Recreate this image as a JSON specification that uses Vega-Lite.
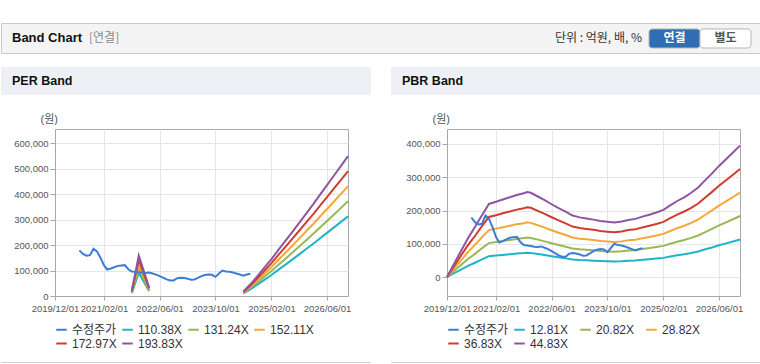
{
  "$schema": "https://vega.github.io/schema/vega-lite/v6.json",
  "background": "#ffffff",
  "padding": {"left": 0, "top": 22, "right": 0, "bottom": 0},
  "config": {
    "view": {"stroke": "#a8a8a8"},
    "axis": {"labelFont": "Liberation Sans", "labelFontSize": 9.5, "labelColor": "#555555", "gridColor": "#e6e6e6", "tickColor": "#a8a8a8", "domainColor": "#a8a8a8"},
    "line": {"strokeWidth": 2}
  },
  "datasets": {
    "price": [
      {"d": "2020-07-01", "p": 179000}, {"d": "2020-08-01", "p": 165000}, {"d": "2020-09-01", "p": 158000}, {"d": "2020-10-01", "p": 160000},
      {"d": "2020-11-01", "p": 185000}, {"d": "2020-12-01", "p": 175000}, {"d": "2021-01-01", "p": 150000}, {"d": "2021-02-01", "p": 120000},
      {"d": "2021-03-01", "p": 104000}, {"d": "2021-04-01", "p": 108000}, {"d": "2021-05-01", "p": 113000}, {"d": "2021-06-01", "p": 118000},
      {"d": "2021-07-01", "p": 120000}, {"d": "2021-08-01", "p": 121000}, {"d": "2021-09-01", "p": 105000}, {"d": "2021-10-01", "p": 96000},
      {"d": "2021-11-01", "p": 95000}, {"d": "2021-12-01", "p": 93000}, {"d": "2022-01-01", "p": 91000}, {"d": "2022-02-01", "p": 90000},
      {"d": "2022-03-01", "p": 92000}, {"d": "2022-04-01", "p": 88000}, {"d": "2022-05-01", "p": 84000}, {"d": "2022-06-01", "p": 78000},
      {"d": "2022-07-01", "p": 72000}, {"d": "2022-08-01", "p": 65000}, {"d": "2022-09-01", "p": 61000}, {"d": "2022-10-01", "p": 61000},
      {"d": "2022-11-01", "p": 70000}, {"d": "2022-12-01", "p": 72000}, {"d": "2023-01-01", "p": 71000}, {"d": "2023-02-01", "p": 68000},
      {"d": "2023-03-01", "p": 64000}, {"d": "2023-04-01", "p": 65000}, {"d": "2023-05-01", "p": 71000}, {"d": "2023-06-01", "p": 78000},
      {"d": "2023-07-01", "p": 82000}, {"d": "2023-08-01", "p": 84000}, {"d": "2023-09-01", "p": 83000}, {"d": "2023-10-01", "p": 75000},
      {"d": "2023-11-01", "p": 88000}, {"d": "2023-12-01", "p": 100000}, {"d": "2024-01-01", "p": 96000}, {"d": "2024-02-01", "p": 95000},
      {"d": "2024-03-01", "p": 92000}, {"d": "2024-04-01", "p": 88000}, {"d": "2024-05-01", "p": 84000}, {"d": "2024-06-01", "p": 80000},
      {"d": "2024-07-01", "p": 84000}, {"d": "2024-08-01", "p": 87000}
    ],
    "perBand": [
      {"d": "2021-10-01", "g": 1, "a": 11000, "b": 13100, "c": 15200, "e": 17300, "f": 19400},
      {"d": "2021-12-01", "g": 1, "a": 90500, "b": 107600, "c": 124700, "e": 141800, "f": 158900},
      {"d": "2022-03-01", "g": 1, "a": 19300, "b": 23000, "c": 26600, "e": 30300, "f": 33900},
      {"d": "2024-06-01", "g": 2, "a": 9900, "b": 11800, "c": 13700, "e": 15600, "f": 17400},
      {"d": "2024-08-01", "g": 2, "a": 26200, "b": 31100, "c": 36100, "e": 41000, "f": 45900},
      {"d": "2024-10-01", "g": 2, "a": 44300, "b": 52600, "c": 61000, "e": 69400, "f": 77700},
      {"d": "2024-12-01", "g": 2, "a": 63100, "b": 75100, "c": 87000, "e": 98900, "f": 110900},
      {"d": "2025-02-01", "g": 2, "a": 82500, "b": 98000, "c": 113600, "e": 129200, "f": 144800},
      {"d": "2025-04-01", "g": 2, "a": 102300, "b": 121700, "c": 141000, "e": 160300, "f": 179700},
      {"d": "2025-06-01", "g": 2, "a": 122300, "b": 145400, "c": 168500, "e": 191700, "f": 214800},
      {"d": "2025-08-01", "g": 2, "a": 142700, "b": 169700, "c": 196700, "e": 223700, "f": 250600},
      {"d": "2025-10-01", "g": 2, "a": 163400, "b": 194200, "c": 225100, "e": 256000, "f": 286900},
      {"d": "2025-12-01", "g": 2, "a": 184100, "b": 218900, "c": 253700, "e": 288500, "f": 323300},
      {"d": "2026-02-01", "g": 2, "a": 205100, "b": 243800, "c": 282600, "e": 321400, "f": 360100},
      {"d": "2026-04-01", "g": 2, "a": 226300, "b": 269000, "c": 311800, "e": 354600, "f": 397400},
      {"d": "2026-06-01", "g": 2, "a": 247600, "b": 294400, "c": 341200, "e": 388000, "f": 434800},
      {"d": "2026-08-01", "g": 2, "a": 269100, "b": 320000, "c": 370800, "e": 421700, "f": 472600},
      {"d": "2026-10-01", "g": 2, "a": 290600, "b": 345600, "c": 400500, "e": 455400, "f": 510400},
      {"d": "2026-12-01", "g": 2, "a": 312400, "b": 371400, "c": 430500, "e": 489500, "f": 548500}
    ],
    "pbrBand": [
      {"d": "2019-12-01", "a": 0, "b": 0, "c": 0, "e": 0, "f": 0},
      {"d": "2020-02-01", "a": 11500, "b": 18700, "c": 25900, "e": 33100, "f": 40300},
      {"d": "2020-04-01", "a": 22400, "b": 36400, "c": 50400, "e": 64500, "f": 78500},
      {"d": "2020-06-01", "a": 33300, "b": 54100, "c": 74900, "e": 95800, "f": 116600},
      {"d": "2020-08-01", "a": 42900, "b": 69700, "c": 96500, "e": 123400, "f": 150200},
      {"d": "2020-10-01", "a": 53200, "b": 86400, "c": 119600, "e": 152800, "f": 186000},
      {"d": "2020-12-01", "a": 62800, "b": 102000, "c": 141200, "e": 180500, "f": 219700},
      {"d": "2021-02-01", "a": 64700, "b": 105100, "c": 145500, "e": 186000, "f": 226400},
      {"d": "2021-04-01", "a": 66600, "b": 108300, "c": 149900, "e": 191500, "f": 233100},
      {"d": "2021-06-01", "a": 68500, "b": 111400, "c": 154200, "e": 197000, "f": 239800},
      {"d": "2021-08-01", "a": 70500, "b": 114500, "c": 158500, "e": 202600, "f": 246600},
      {"d": "2021-10-01", "a": 72000, "b": 117000, "c": 162000, "e": 207000, "f": 251900},
      {"d": "2021-11-01", "a": 73000, "b": 118700, "c": 164300, "e": 209900, "f": 255500},
      {"d": "2021-12-01", "a": 72400, "b": 117600, "c": 162800, "e": 208100, "f": 253300},
      {"d": "2022-02-01", "a": 69200, "b": 112400, "c": 155600, "e": 198900, "f": 242100},
      {"d": "2022-04-01", "a": 66000, "b": 107200, "c": 148400, "e": 189700, "f": 230900},
      {"d": "2022-06-01", "a": 62500, "b": 101600, "c": 140600, "e": 179700, "f": 218800},
      {"d": "2022-08-01", "a": 59200, "b": 96200, "c": 133100, "e": 170200, "f": 207100},
      {"d": "2022-10-01", "a": 56100, "b": 91200, "c": 126200, "e": 161300, "f": 196400},
      {"d": "2022-12-01", "a": 52800, "b": 85800, "c": 118700, "e": 151700, "f": 184700},
      {"d": "2023-02-01", "a": 51200, "b": 83300, "c": 115300, "e": 147300, "f": 179300},
      {"d": "2023-04-01", "a": 50300, "b": 81800, "c": 113300, "e": 144700, "f": 176200},
      {"d": "2023-06-01", "a": 49300, "b": 80200, "c": 111000, "e": 141800, "f": 172600},
      {"d": "2023-08-01", "a": 48200, "b": 78300, "c": 108400, "e": 138500, "f": 168600},
      {"d": "2023-10-01", "a": 47400, "b": 77000, "c": 106600, "e": 136300, "f": 165900},
      {"d": "2023-12-01", "a": 46800, "b": 76000, "c": 105200, "e": 134400, "f": 163600},
      {"d": "2024-02-01", "a": 47700, "b": 77500, "c": 107200, "e": 137000, "f": 166800},
      {"d": "2024-04-01", "a": 49100, "b": 79700, "c": 110400, "e": 141100, "f": 171700},
      {"d": "2024-06-01", "a": 50000, "b": 81200, "c": 112400, "e": 143600, "f": 174800},
      {"d": "2024-08-01", "a": 51900, "b": 84300, "c": 116700, "e": 149200, "f": 181600},
      {"d": "2024-10-01", "a": 53500, "b": 87000, "c": 120500, "e": 153900, "f": 187400},
      {"d": "2024-12-01", "a": 55500, "b": 90200, "c": 124800, "e": 159500, "f": 194100},
      {"d": "2025-02-01", "a": 57600, "b": 93700, "c": 129700, "e": 165700, "f": 201700},
      {"d": "2025-04-01", "a": 61500, "b": 99900, "c": 138300, "e": 176800, "f": 215200},
      {"d": "2025-06-01", "a": 65300, "b": 106200, "c": 147000, "e": 187800, "f": 228600},
      {"d": "2025-08-01", "a": 68500, "b": 111400, "c": 154200, "e": 197000, "f": 239800},
      {"d": "2025-10-01", "a": 72400, "b": 117600, "c": 162800, "e": 208100, "f": 253300},
      {"d": "2025-12-01", "a": 76900, "b": 124900, "c": 172900, "e": 221000, "f": 269000},
      {"d": "2026-02-01", "a": 83300, "b": 135300, "c": 187300, "e": 239400, "f": 291400},
      {"d": "2026-04-01", "a": 89000, "b": 144700, "c": 200300, "e": 256000, "f": 311600},
      {"d": "2026-06-01", "a": 95400, "b": 155100, "c": 214700, "e": 274400, "f": 334000},
      {"d": "2026-08-01", "a": 101200, "b": 164500, "c": 227700, "e": 291000, "f": 354200},
      {"d": "2026-10-01", "a": 107000, "b": 173800, "c": 240600, "e": 307500, "f": 374300},
      {"d": "2026-12-01", "a": 112900, "b": 183400, "c": 253900, "e": 324500, "f": 395000}
    ]
  },
  "spacing": 13,
  "resolve": {"scale": {"color": "independent"}},
  "vconcat": [
    {
      "width": 760, "height": 30,
      "view": {"fill": "#f4f4f4", "stroke": "#c8c8c8"},
      "resolve": {"scale": {"x": "independent", "y": "independent", "color": "independent"}},
      "layer": [
        {
          "data": {"values": [{"t": "Band Chart"}]},
          "mark": {"type": "text", "align": "left", "baseline": "middle", "font": "Liberation Sans", "fontSize": 13, "fontWeight": "bold", "color": "#111111"},
          "encoding": {
            "x": {"field": "t", "type": "nominal", "axis": null, "scale": {"type": "point", "domain": ["Band Chart", "[연결]"], "range": [11, 88], "padding": 0}},
            "text": {"field": "t"}
          }
        },
        {
          "data": {"values": [{"t": "[연결]"}]},
          "mark": {"type": "text", "align": "left", "baseline": "middle", "font": "Noto Sans CJK KR", "fontSize": 12, "color": "#8a8a8a"},
          "encoding": {
            "x": {"field": "t", "type": "nominal", "axis": null, "scale": {"type": "point", "domain": ["Band Chart", "[연결]"], "range": [11, 88], "padding": 0}},
            "text": {"field": "t"}
          }
        },
        {
          "data": {"values": [{"t": "단위 : 억원, 배, %"}]},
          "mark": {"type": "text", "align": "right", "baseline": "middle", "font": "Noto Sans CJK KR", "fontSize": 12, "color": "#333333"},
          "encoding": {
            "x": {"field": "t", "type": "nominal", "axis": null, "scale": {"type": "point", "range": [641, 641], "padding": 0}},
            "text": {"field": "t"}
          }
        },
        {
          "data": {"values": [{"b": "연결"}, {"b": "별도"}]},
          "mark": {"type": "rect", "cornerRadius": 3, "stroke": "#b5b5b5", "strokeWidth": 1},
          "encoding": {
            "x": {"field": "b", "type": "nominal", "axis": null, "sort": null, "scale": {"type": "band", "domain": ["연결", "별도"], "range": [648, 750], "paddingInner": 0, "paddingOuter": 0}},
            "y": {"datum": "btn", "type": "nominal", "axis": null, "scale": {"type": "band", "range": [6, 25], "paddingInner": 0, "paddingOuter": 0}},
            "color": {"field": "b", "type": "nominal", "legend": null, "scale": {"domain": ["연결", "별도"], "range": ["#2f6eb5", "#ffffff"]}}
          }
        },
        {
          "data": {"values": [{"b": "연결"}, {"b": "별도"}]},
          "mark": {"type": "text", "baseline": "middle", "font": "Noto Sans CJK KR", "fontSize": 12, "fontWeight": "bold"},
          "encoding": {
            "x": {"field": "b", "type": "nominal", "axis": null, "sort": null, "scale": {"type": "band", "domain": ["연결", "별도"], "range": [648, 750], "paddingInner": 0, "paddingOuter": 0}},
            "text": {"field": "b"},
            "color": {"field": "b", "type": "nominal", "legend": null, "scale": {"domain": ["연결", "별도"], "range": ["#ffffff", "#555555"]}}
          }
        }
      ]
    },
    {
      "spacing": 17,
      "resolve": {"scale": {"color": "independent"}},
      "vconcat": [
        {
          "width": 760, "height": 28,
          "view": {"stroke": null},
          "data": {"values": [{"p": "PER Band"}, {"p": "PBR Band"}]},
          "layer": [
            {
              "mark": {"type": "rect", "color": "#edf1f6"},
              "encoding": {"x": {"field": "p", "type": "nominal", "axis": null, "sort": null, "scale": {"type": "band", "domain": ["PER Band", "PBR Band"], "paddingInner": 0.0513, "paddingOuter": 0}}}
            },
            {
              "mark": {"type": "text", "align": "left", "baseline": "middle", "dx": 11, "font": "Liberation Sans", "fontSize": 12.5, "fontWeight": "bold", "color": "#111111"},
              "encoding": {
                "x": {"field": "p", "type": "nominal", "axis": null, "sort": null, "bandPosition": 0, "scale": {"type": "band", "domain": ["PER Band", "PBR Band"], "paddingInner": 0.0513, "paddingOuter": 0}},
                "text": {"field": "p"}
              }
            }
          ]
        },
        {
          "spacing": 11,
          "resolve": {"scale": {"color": "independent"}},
          "vconcat": [
            {
              "spacing": 0,
              "resolve": {"scale": {"color": "independent"}},
              "hconcat": [
                {
                  "width": 12, "height": 1,
                  "view": {"fill": "#ffffff", "stroke": null},
                  "data": {"values": []},
                  "mark": {"type": "point"},
                  "encoding": {}
                },
                {
                  "spacing": 52,
                  "resolve": {"scale": {"color": "independent"}},
                  "hconcat": [
                    {
                      "width": 293, "height": 167,
                      "encoding": {
                        "x": {"field": "d", "type": "temporal",
                          "scale": {"type": "utc", "domain": [{"year": 2019, "month": 12, "date": 1, "utc": true}, {"year": 2026, "month": 12, "date": 1, "utc": true}]},
                          "axis": {"title": null, "format": "%Y/%m/%d", "labelOverlap": false, "labelFlush": false, "labelPadding": 3, "tickSize": 4,
                            "values": [{"year": 2019, "month": 12, "date": 1, "utc": true}, {"year": 2021, "month": 2, "date": 1, "utc": true}, {"year": 2022, "month": 6, "date": 1, "utc": true}, {"year": 2023, "month": 10, "date": 1, "utc": true}, {"year": 2025, "month": 2, "date": 1, "utc": true}, {"year": 2026, "month": 6, "date": 1, "utc": true}]}},
                        "y": {"field": "v", "type": "quantitative",
                          "scale": {"domain": [0, 655000], "nice": false, "zero": false},
                          "axis": {"values": [0, 100000, 200000, 300000, 400000, 500000, 600000], "format": ",.0f", "tickSize": 5, "labelPadding": 2,
                            "title": "(원)", "titleAngle": 0, "titleAlign": "left", "titleBaseline": "bottom", "titleX": -15, "titleY": -5,
                            "titleFont": "Liberation Sans, Noto Sans CJK KR", "titleFontSize": 11, "titleFontWeight": "normal", "titleColor": "#555555"}},
                        "color": {"field": "k", "type": "nominal",
                          "scale": {"domain": ["p", "a", "b", "c", "e", "f"], "range": ["#3b7dd8", "#1eb4c8", "#97b853", "#f5a737", "#d23b2f", "#8e56a0"]},
                          "legend": {"title": null, "orient": "bottom", "direction": "horizontal", "columns": 4, "gridAlign": "all", "symbolType": "stroke", "symbolSize": 110, "symbolStrokeWidth": 3,
                            "labelFont": "Liberation Sans, Noto Sans CJK KR", "labelFontSize": 12, "labelColor": "#333333", "labelOffset": 4, "columnPadding": 1, "rowPadding": 1, "offset": 10,
                            "labelExpr": "datum.label == 'p' ? '수정주가' : datum.label == 'a' ? '110.38X' : datum.label == 'b' ? '131.24X' : datum.label == 'c' ? '152.11X' : datum.label == 'e' ? '172.97X' : '193.83X'"}}
                      },
                      "layer": [
                        {
                          "data": {"name": "perBand"},
                          "transform": [{"fold": ["a", "b", "c", "e", "f"], "as": ["k", "v"]}],
                          "mark": {"type": "line", "strokeWidth": 2},
                          "encoding": {"detail": {"field": "g", "type": "nominal"}}
                        },
                        {
                          "data": {"name": "price"},
                          "transform": [{"fold": ["p"], "as": ["k", "v"]}],
                          "mark": {"type": "line", "strokeWidth": 2},
                          "encoding": {}
                        }
                      ]
                    },
                    {
                      "width": 293, "height": 167,
                      "encoding": {
                        "x": {"field": "d", "type": "temporal",
                          "scale": {"type": "utc", "domain": [{"year": 2019, "month": 12, "date": 1, "utc": true}, {"year": 2026, "month": 12, "date": 1, "utc": true}]},
                          "axis": {"title": null, "format": "%Y/%m/%d", "labelOverlap": false, "labelFlush": false, "labelPadding": 3, "tickSize": 4,
                            "values": [{"year": 2019, "month": 12, "date": 1, "utc": true}, {"year": 2021, "month": 2, "date": 1, "utc": true}, {"year": 2022, "month": 6, "date": 1, "utc": true}, {"year": 2023, "month": 10, "date": 1, "utc": true}, {"year": 2025, "month": 2, "date": 1, "utc": true}, {"year": 2026, "month": 6, "date": 1, "utc": true}]}},
                        "y": {"field": "v", "type": "quantitative",
                          "scale": {"domain": [-57000, 445000], "nice": false, "zero": false},
                          "axis": {"values": [0, 100000, 200000, 300000, 400000], "format": ",.0f", "tickSize": 5, "labelPadding": 2,
                            "title": "(원)", "titleAngle": 0, "titleAlign": "left", "titleBaseline": "bottom", "titleX": -15, "titleY": -5,
                            "titleFont": "Liberation Sans, Noto Sans CJK KR", "titleFontSize": 11, "titleFontWeight": "normal", "titleColor": "#555555"}},
                        "color": {"field": "k", "type": "nominal",
                          "scale": {"domain": ["p", "a", "b", "c", "e", "f"], "range": ["#3b7dd8", "#1eb4c8", "#97b853", "#f5a737", "#d23b2f", "#8e56a0"]},
                          "legend": {"title": null, "orient": "bottom", "direction": "horizontal", "columns": 4, "gridAlign": "all", "symbolType": "stroke", "symbolSize": 110, "symbolStrokeWidth": 3,
                            "labelFont": "Liberation Sans, Noto Sans CJK KR", "labelFontSize": 12, "labelColor": "#333333", "labelOffset": 4, "columnPadding": 1, "rowPadding": 1, "offset": 10,
                            "labelExpr": "datum.label == 'p' ? '수정주가' : datum.label == 'a' ? '12.81X' : datum.label == 'b' ? '20.82X' : datum.label == 'c' ? '28.82X' : datum.label == 'e' ? '36.83X' : '44.83X'"}}
                      },
                      "layer": [
                        {
                          "data": {"name": "pbrBand"},
                          "transform": [{"fold": ["a", "b", "c", "e", "f"], "as": ["k", "v"]}],
                          "mark": {"type": "line", "strokeWidth": 2},
                          "encoding": {}
                        },
                        {
                          "data": {"name": "price"},
                          "transform": [{"fold": ["p"], "as": ["k", "v"]}],
                          "mark": {"type": "line", "strokeWidth": 2},
                          "encoding": {}
                        }
                      ]
                    }
                  ]
                }
              ]
            },
            {
              "width": 760, "height": 1,
              "view": {"stroke": null},
              "data": {"values": [{"p": "PER Band"}, {"p": "PBR Band"}]},
              "mark": {"type": "rect", "color": "#d0d0d0"},
              "encoding": {"x": {"field": "p", "type": "nominal", "axis": null, "sort": null, "scale": {"type": "band", "domain": ["PER Band", "PBR Band"], "paddingInner": 0.0513, "paddingOuter": 0}}}
            }
          ]
        }
      ]
    }
  ]
}
